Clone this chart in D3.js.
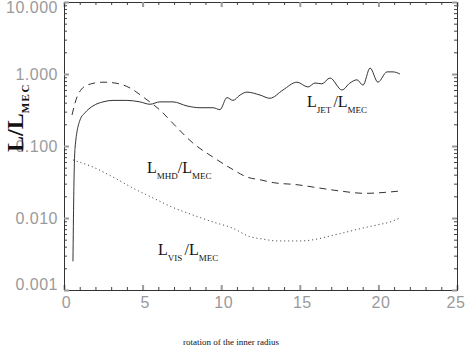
<!DOCTYPE html>
<html>
<head>
<meta charset="utf-8">
<script src="https://d3js.org/d3.v7.min.js"></script>
<style>
  body { margin: 0; background: #fff; }
  svg { display: block; }
  .tick text { font-family: "Liberation Sans", Arial, sans-serif; font-size: 16px; fill: #9a9a9a; letter-spacing: 0.5px; }
  .lbl { font-family: "Liberation Serif", "Times New Roman", serif; fill: #111; }
</style>
</head>
<body>
<div id="chart"></div>
<script>
// L_JET / L_MEC (solid)
const jetX = [0.57, 0.62, 0.70, 1.02, 1.34, 1.84, 2.48, 3.12, 4.0, 4.83, 5.47, 6.1, 6.93, 7.82, 8.65, 9.48, 9.92,
  10.37, 10.75, 11.2, 11.64, 12.47, 13.1, 13.93, 14.82, 15.52, 15.97, 16.4, 16.92, 17.68, 18.19, 18.64, 19.02,
  19.47, 19.97, 20.55, 20.93, 21.37];
const jetY = [0.0025, 0.02, 0.093, 0.23, 0.29, 0.36, 0.41, 0.43, 0.43, 0.41, 0.38, 0.41, 0.41, 0.36, 0.34, 0.34, 0.32,
  0.47, 0.43, 0.51, 0.56, 0.51, 0.46, 0.60, 0.77, 0.66, 0.75, 0.73, 0.88, 0.60, 0.75, 0.83, 0.70,
  1.21, 0.77, 1.07, 1.07, 1.0];

// L_MHD / L_MEC (dashed)
const mhdX = [0.51, 0.83, 1.46, 2.48, 3.24, 4.2, 5.03, 6.1, 7.19, 8.2, 9.48, 10.75, 11.64, 12.47, 13.3, 14.82,
  16.28, 17.56, 19.15, 20.74, 21.37];
const mhdY = [0.27, 0.48, 0.70, 0.77, 0.75, 0.64, 0.48, 0.316, 0.18, 0.11, 0.070, 0.047, 0.037, 0.034, 0.031, 0.029,
  0.026, 0.0237, 0.022, 0.023, 0.0237];

// L_VIS / L_MEC (dotted)
const visX = [0.57, 1.84, 3.12, 4.39, 5.66, 6.93, 8.2, 9.48, 10.75, 11.83, 12.66, 13.55, 15.0, 16.1, 16.73,
  17.75, 18.83, 19.9, 20.74, 21.37];
const visY = [0.064, 0.051, 0.037, 0.026, 0.019, 0.014, 0.011, 0.0088, 0.0072, 0.0055, 0.0051, 0.0048, 0.0048, 0.0051, 0.0055,
  0.0062, 0.0071, 0.0080, 0.0088, 0.010];

const xMajor = [0, 5, 10, 15, 20, 25];
const yMajor = [0.001, 0.01, 0.1, 1, 10];

const margin = {top: 2, right: 8, bottom: 58, left: 64},
    width = 465 - margin.left - margin.right,
    height = 348 - margin.top - margin.bottom;

const svg = d3.select("#chart")
    .append("svg")
    .attr("width", 465)
    .attr("height", 348);

const g = svg.append("g")
    .attr("transform", `translate(${margin.left},${margin.top})`);

const x = d3.scaleLinear().domain([0, 25]).range([0, width]);
const y = d3.scaleLog().domain([0.001, 10]).range([height, 0]);

const xMinor = d3.range(0, 26).filter(d => d % 5 != 0);
const yMinor = y.ticks().filter(d => !yMajor.some(m => Math.abs(m - d) < 1e-9));

function styleAxis(sel, major) {
    sel.select(".domain").attr("stroke", "#333");
    sel.selectAll(".tick line").attr("stroke", major ? "#9a9a9a" : "#444")
        .attr("stroke-width", major ? 2 : 1);
}

// minor ticks
g.append("g").attr("transform", `translate(0,${height})`)
    .call(d3.axisBottom(x).tickValues(xMinor).tickSize(-3).tickSizeOuter(0).tickFormat(""))
    .call(s => styleAxis(s, false));
g.append("g")
    .call(d3.axisTop(x).tickValues(xMinor).tickSize(-3).tickSizeOuter(0).tickFormat(""))
    .call(s => styleAxis(s, false));
g.append("g")
    .call(d3.axisLeft(y).tickValues(yMinor).tickSize(-3).tickSizeOuter(0).tickFormat(""))
    .call(s => styleAxis(s, false));
g.append("g").attr("transform", `translate(${width},0)`)
    .call(d3.axisRight(y).tickValues(yMinor).tickSize(-3).tickSizeOuter(0).tickFormat(""))
    .call(s => styleAxis(s, false));

// major ticks + labels
g.append("g").attr("transform", `translate(0,${height})`)
    .call(d3.axisBottom(x).tickValues(xMajor).tickSize(-5).tickSizeOuter(0).tickPadding(7).tickFormat(d3.format("d")))
    .call(s => styleAxis(s, true))
    .call(s => s.selectAll(".tick text").attr("dx", d => d == 25 ? -1.5 : 2));
g.append("g")
    .call(d3.axisTop(x).tickValues(xMajor).tickSize(-5).tickSizeOuter(0).tickFormat(""))
    .call(s => styleAxis(s, true));
g.append("g")
    .call(d3.axisLeft(y).tickValues(yMajor).tickSize(-5).tickSizeOuter(0).tickPadding(6).tickFormat(d3.format(".3f")))
    .call(s => styleAxis(s, true))
    .call(s => s.selectAll(".tick text")
        .attr("dy", d => d == 10 ? "0.65em" : d == 0.001 ? "-0.05em" : "0.32em"));
g.append("g").attr("transform", `translate(${width},0)`)
    .call(d3.axisRight(y).tickValues(yMajor).tickSize(-5).tickSizeOuter(0).tickFormat(""))
    .call(s => styleAxis(s, true));

// curves
const line = d3.line()
    .x(d => x(d[0]))
    .y(d => y(d[1]))
    .curve(d3.curveMonotoneX);

g.append("path")
    .datum(d3.zip(jetX, jetY))
    .attr("fill", "none")
    .attr("stroke", "#333")
    .attr("stroke-width", 1)
    .attr("d", line);

g.append("path")
    .datum(d3.zip(mhdX, mhdY))
    .attr("fill", "none")
    .attr("stroke", "#333")
    .attr("stroke-width", 1)
    .attr("stroke-dasharray", "7,5")
    .attr("d", line);

g.append("path")
    .datum(d3.zip(visX, visY))
    .attr("fill", "none")
    .attr("stroke", "#333")
    .attr("stroke-width", 1)
    .attr("stroke-dasharray", "1,3")
    .attr("d", line);

// curve labels
function ratioLabel(xv, yv, sub, gap) {
    const t = g.append("text").attr("class", "lbl")
        .attr("x", x(xv)).attr("y", y(yv))
        .style("font-size", "16px");
    t.append("tspan").text("L");
    t.append("tspan").attr("dy", 6).style("font-size", "9px").text(sub + gap);
    t.append("tspan").attr("dy", -6).text("/L");
    t.append("tspan").attr("dy", 6).style("font-size", "9px").text("MEC");
}
ratioLabel(15.46, 0.348, "JET", " ");
ratioLabel(5.28, 0.0422, "MHD", "");
ratioLabel(5.98, 0.00306, "VIS", " ");

// y axis title
const yt = svg.append("text").attr("class", "lbl")
    .attr("transform", "translate(23,152) rotate(-90)")
    .style("font-weight", "bold")
    .style("font-size", "24px");
yt.append("tspan").text("L/L");
yt.append("tspan").attr("dy", 6).style("font-size", "11px")
    .style("letter-spacing", "1.5px").text("MEC");

// x axis title
svg.append("text").attr("class", "lbl")
    .attr("x", 231).attr("y", 345)
    .attr("text-anchor", "middle")
    .style("font-size", "9px")
    .text("rotation of the inner radius");
</script>
</body>
</html>
